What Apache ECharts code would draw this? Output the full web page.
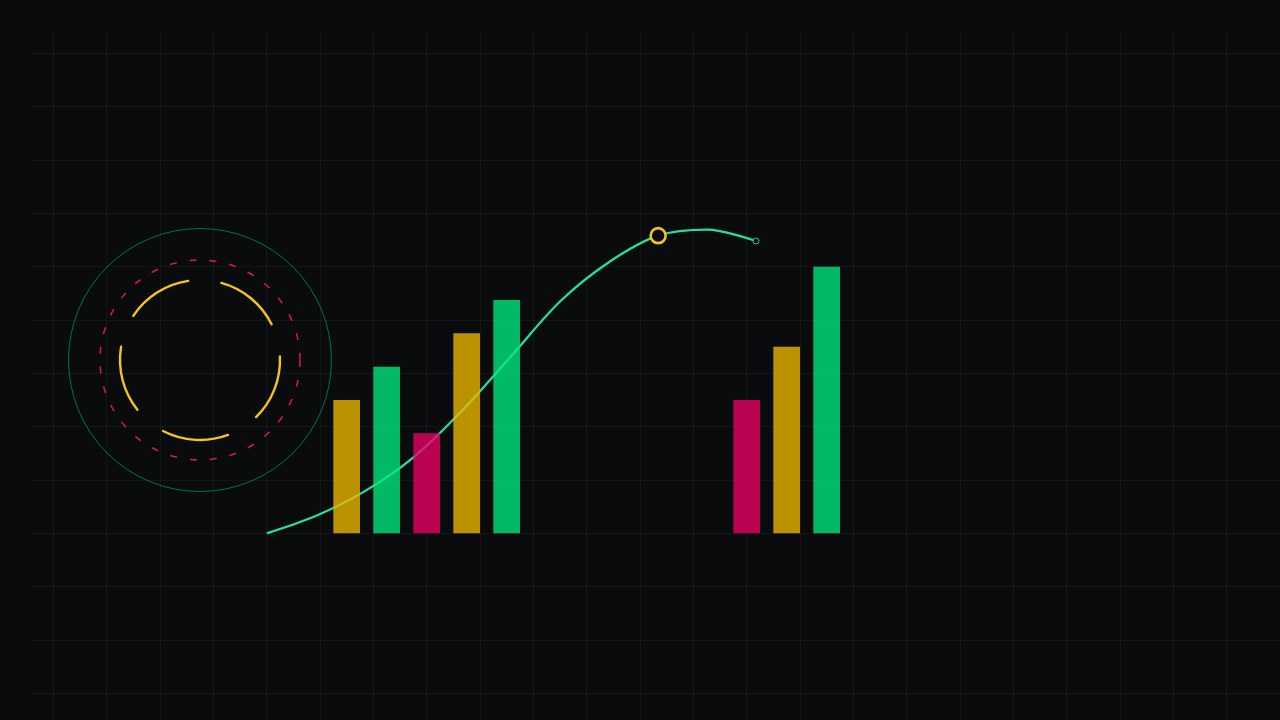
<!DOCTYPE html>
<html>
<head>
<meta charset="utf-8">
<style>
  html, body { margin: 0; padding: 0; background: #0a0b0d; }
  #chart { width: 1280px; height: 720px; }
</style>
<script src="https://cdn.jsdelivr.net/npm/echarts@6/dist/echarts.min.js"></script>
</head>
<body>
<div id="chart"></div>
<script>
// ---- data ----
const barCategories = ['1','2','3','4','5','6','7','8','9','10','11','12','13'];
const barValues = [20, 25, 15, 30, 35, null, null, null, null, null, 20, 28, 40];
const barColorKeys = ['gold','green','pink','gold','green', null, null, null, null, null, 'pink','gold','green'];

const lineX = [0, 10, 20, 30, 40, 50, 60, 70, 80, 90, 100];
const lineY = [0, 2.6, 6.3, 11.4, 18.45, 26.6, 34.8, 40.7, 44.65, 45.55, 43.85];
const highlightIndex = 8;
const endIndex = 10;

const palette = { gold: '#ecb800', green: '#00ec80', pink: '#ec0066' };
const BG = '#0a0b0d';

const chart = echarts.init(document.getElementById('chart'));

const barData = barValues.map((v, i) => v == null ? null : ({
  value: v,
  itemStyle: { color: palette[barColorKeys[i]], opacity: 0.78 }
}));

const lineData = lineX.map((x, i) => {
  const item = { value: [x, lineY[i]] };
  if (i === highlightIndex) {
    item.symbol = 'circle';
    item.symbolSize = 15;
    item.itemStyle = { color: BG, borderColor: '#f5c518', borderWidth: 2.6 };
  } else if (i === endIndex) {
    item.symbol = 'circle';
    item.symbolSize = 6;
    item.itemStyle = { color: BG, borderColor: '#1fc98c', borderWidth: 1 };
  }
  return item;
});

const hiddenAxis = {
  axisLine: { show: false }, axisTick: { show: false },
  axisLabel: { show: false }, splitLine: { show: false }
};

// decorative ring arcs (5 arcs of 48deg, 72deg period)
const arcs = [];
for (let k = 0; k < 5; k++) {
  const a0 = 26.5 + 72 * k, a1 = 74.5 + 72 * k;
  arcs.push({
    type: 'arc', z: 5, silent: true,
    shape: { cx: 200, cy: 360, r: 80,
      startAngle: -a1 * Math.PI / 180, endAngle: -a0 * Math.PI / 180, clockwise: true },
    style: { stroke: '#f5c518', lineWidth: 2.4, fill: null, lineCap: 'round' }
  });
}

const option = {
  backgroundColor: BG,
  animation: false,
  grid: [
    { left: 0, top: 0, right: 0, bottom: 0 },                 // background grid
    { left: 326.67, top: 0, width: 520, height: 533.33 },      // bars
    { left: 266.67, top: 0, width: 489.33, height: 533.33 }    // line
  ],
  xAxis: [
    { gridIndex: 0, type: 'value', min: 0, max: 24, interval: 1,
      axisLine: { show: false }, axisTick: { show: false }, axisLabel: { show: false },
      splitLine: { show: true, lineStyle: { color: 'rgba(255,255,255,0.045)', width: 1 } } },
    Object.assign({ gridIndex: 1, type: 'category', data: barCategories, boundaryGap: true }, hiddenAxis),
    Object.assign({ gridIndex: 2, type: 'value', min: 0, max: 100 }, hiddenAxis)
  ],
  yAxis: [
    { gridIndex: 0, type: 'value', min: 0, max: 13.5, interval: 1, inverse: true,
      axisLine: { show: false }, axisTick: { show: false }, axisLabel: { show: false },
      splitLine: { show: true, lineStyle: { color: 'rgba(255,255,255,0.045)', width: 1 } } },
    Object.assign({ gridIndex: 1, type: 'value', min: 0, max: 80 }, hiddenAxis),
    Object.assign({ gridIndex: 2, type: 'value', min: 0, max: 80 }, hiddenAxis)
  ],
  graphic: [
    { type: 'rect', z: 1, silent: true, shape: { x: 0, y: 0, width: 1280, height: 32 }, style: { fill: BG } },
    { type: 'rect', z: 1, silent: true, shape: { x: 0, y: 0, width: 32, height: 720 }, style: { fill: BG } },
    { type: 'circle', z: 5, silent: true, shape: { cx: 200, cy: 360, r: 131.5 },
      style: { fill: null, stroke: 'rgba(0,210,140,0.5)', lineWidth: 1 } },
    { type: 'circle', z: 5, silent: true, shape: { cx: 200, cy: 360, r: 100 },
      style: { fill: null, stroke: '#e0125e', lineWidth: 1.5, lineDash: [7, 13] } }
  ].concat(arcs),
  series: [
    {
      type: 'line', xAxisIndex: 2, yAxisIndex: 2, z: 3,
      data: lineData, smooth: 0.33, symbol: 'none',
      lineStyle: { color: '#22e39a', width: 2.2 },
      emphasis: { disabled: true }, silent: true
    },
    {
      type: 'bar', xAxisIndex: 1, yAxisIndex: 1, z: 4,
      data: barData, barWidth: 26.67,
      emphasis: { disabled: true }, silent: true
    }
  ]
};
chart.setOption(option);
</script>
</body>
</html>
